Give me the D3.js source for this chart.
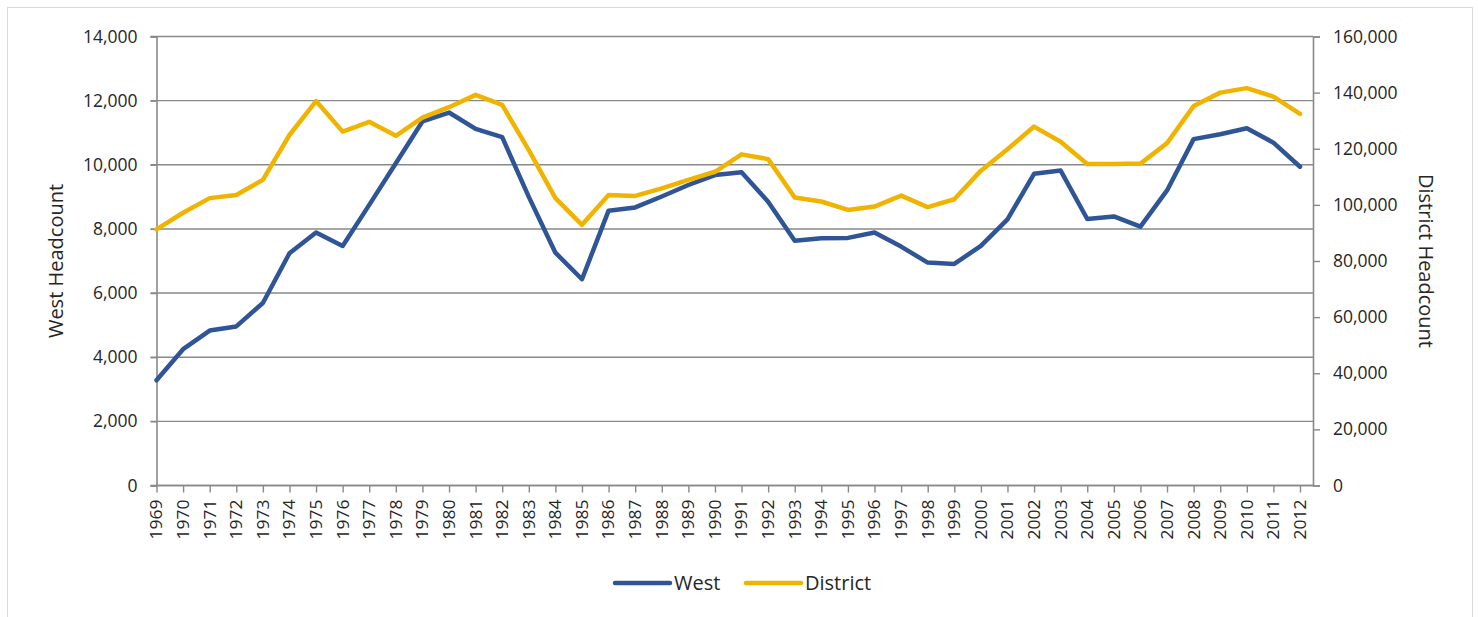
<!DOCTYPE html>
<html>
<head>
<meta charset="utf-8">
<script src="https://cdn.jsdelivr.net/npm/d3@7"></script>
<style>
  body { margin: 0; background: #fff; }
  text { font-family: "Open Sans", sans-serif; fill: #262626; }
</style>
</head>
<body>
<div id="chart"></div>
<script>
// years on the category axis
var years = d3.range(1969, 2013);

// West headcount (left axis)
var westValues = [3280, 4250, 4830, 4960, 5690, 7240, 7890, 7470, 8750, 10050,
  11350, 11630, 11120, 10860, 9000, 7260, 6430, 8570, 8670, 9010,
  9370, 9680, 9770, 8850, 7630, 7710, 7720, 7890, 7450, 6950,
  6910, 7470, 8300, 9720, 9820, 8310, 8390, 8070, 9200, 10800,
  10950, 11140, 10690, 9940];

// District headcount (right axis)
var districtValues = [91300, 97200, 102400, 103500, 108900, 124900, 137000, 126100, 129600, 124600,
  131100, 134800, 139200, 135600, 119500, 102400, 92900, 103500, 103200, 105900,
  108900, 111800, 118000, 116300, 102600, 101200, 98200, 99400, 103300, 99200,
  102000, 112200, 119800, 127900, 122500, 114600, 114600, 114700, 122000, 135200,
  140000, 141600, 138600, 132400];

var leftTicks = d3.range(0, 14001, 2000);
var rightTicks = d3.range(0, 160001, 20000);

var W = 1478, H = 617;
var plotLeft = 156.5, plotRight = 1313, plotTop = 36.5, plotBottom = 485.5;
var gridColor = "#898989";
var westColor = "#2f5597", districtColor = "#f0b400";

var svg = d3.select("#chart").append("svg")
    .attr("width", W)
    .attr("height", H);

// chart border
svg.append("rect")
    .attr("x", 7.5).attr("y", 7.5)
    .attr("width", 1465).attr("height", 640)
    .attr("fill", "none")
    .attr("stroke", "#d9d9d9");

var x = d3.scaleLinear().domain([1969, 2012]).range([plotLeft, 1300]);
var yL = d3.scaleLinear().domain([0, 14000]).range([plotBottom, plotTop]);
var yR = d3.scaleLinear().domain([0, 160000]).range([plotBottom, plotTop]);

// gridlines
svg.append("g").selectAll("line")
    .data(leftTicks)
    .enter().append("line")
    .attr("x1", plotLeft - 6).attr("x2", plotRight)
    .attr("y1", function(d){ return yL(d); })
    .attr("y2", function(d){ return yL(d); })
    .attr("stroke", gridColor)
    .attr("stroke-width", 1.4);

// left axis
var leftAxis = svg.append("g")
    .attr("transform", "translate(" + plotLeft + ",0)")
    .call(d3.axisLeft(yL).tickValues(leftTicks).tickSize(6).tickPadding(13)
        .tickFormat(d3.format(",")));
leftAxis.select(".domain").attr("stroke", gridColor).attr("stroke-width", 1.6);
leftAxis.selectAll(".tick line").attr("stroke", gridColor).attr("stroke-width", 1.4);
leftAxis.selectAll("text").style("font-size", "17.5px").attr("fill", "#262626");

// right axis
var rightAxis = svg.append("g")
    .attr("transform", "translate(" + plotRight + ",0)")
    .call(d3.axisRight(yR).tickValues(rightTicks).tickSize(7).tickPadding(13)
        .tickFormat(d3.format(",")));
rightAxis.select(".domain").attr("stroke", gridColor).attr("stroke-width", 1.6);
rightAxis.selectAll(".tick line").attr("stroke", gridColor).attr("stroke-width", 1.4);
rightAxis.selectAll("text").style("font-size", "17.5px").attr("fill", "#262626");

// bottom axis
var bottomAxis = svg.append("g")
    .attr("transform", "translate(0," + plotBottom + ")")
    .call(d3.axisBottom(x).tickValues(years).tickSize(7).tickFormat(d3.format("d")));
bottomAxis.select(".domain").remove();
svg.append("line")
    .attr("x1", plotLeft).attr("x2", plotRight)
    .attr("y1", plotBottom).attr("y2", plotBottom)
    .attr("stroke", gridColor).attr("stroke-width", 1.6);
bottomAxis.selectAll(".tick line").attr("stroke", gridColor).attr("stroke-width", 1.4);
bottomAxis.selectAll("text")
    .style("font-size", "17.5px")
    .attr("fill", "#262626")
    .attr("text-anchor", "end")
    .attr("transform", "rotate(-90) scale(1,0.88)")
    .attr("x", -14)
    .attr("y", 0)
    .attr("dy", "0.35em");

// lines
var westLine = d3.line()
    .x(function(d, i){ return x(years[i]); })
    .y(function(d){ return yL(d); });
var districtLine = d3.line()
    .x(function(d, i){ return x(years[i]); })
    .y(function(d){ return yR(d); });

svg.append("path")
    .datum(westValues)
    .attr("d", westLine)
    .attr("fill", "none")
    .attr("stroke", westColor)
    .attr("stroke-width", 4.5)
    .attr("stroke-linejoin", "round")
    .attr("stroke-linecap", "round");

svg.append("path")
    .datum(districtValues)
    .attr("d", districtLine)
    .attr("fill", "none")
    .attr("stroke", districtColor)
    .attr("stroke-width", 4.5)
    .attr("stroke-linejoin", "round")
    .attr("stroke-linecap", "round");

// axis titles
svg.append("text")
    .attr("transform", "translate(63," + (plotTop + plotBottom) / 2 + ") rotate(-90)")
    .attr("text-anchor", "middle")
    .style("font-size", "20px")
    .text("West Headcount");

svg.append("text")
    .attr("transform", "translate(1419," + (plotTop + plotBottom) / 2 + ") rotate(90)")
    .attr("text-anchor", "middle")
    .style("font-size", "20px")
    .text("District Headcount");

// legend
var legendItems = [
  { name: "West", color: westColor, x: 615 },
  { name: "District", color: districtColor, x: 746 }
];
var legend = svg.selectAll(".legend")
    .data(legendItems)
    .enter().append("g")
    .attr("class", "legend")
    .attr("transform", function(d){ return "translate(" + d.x + ",583)"; });
legend.append("line")
    .attr("x1", 0).attr("x2", 55)
    .attr("stroke", function(d){ return d.color; })
    .attr("stroke-width", 4.5)
    .attr("stroke-linecap", "round");
legend.append("text")
    .attr("x", 59)
    .attr("dy", "0.35em")
    .style("font-size", "20px")
    .text(function(d){ return d.name; });
</script>
</body>
</html>
